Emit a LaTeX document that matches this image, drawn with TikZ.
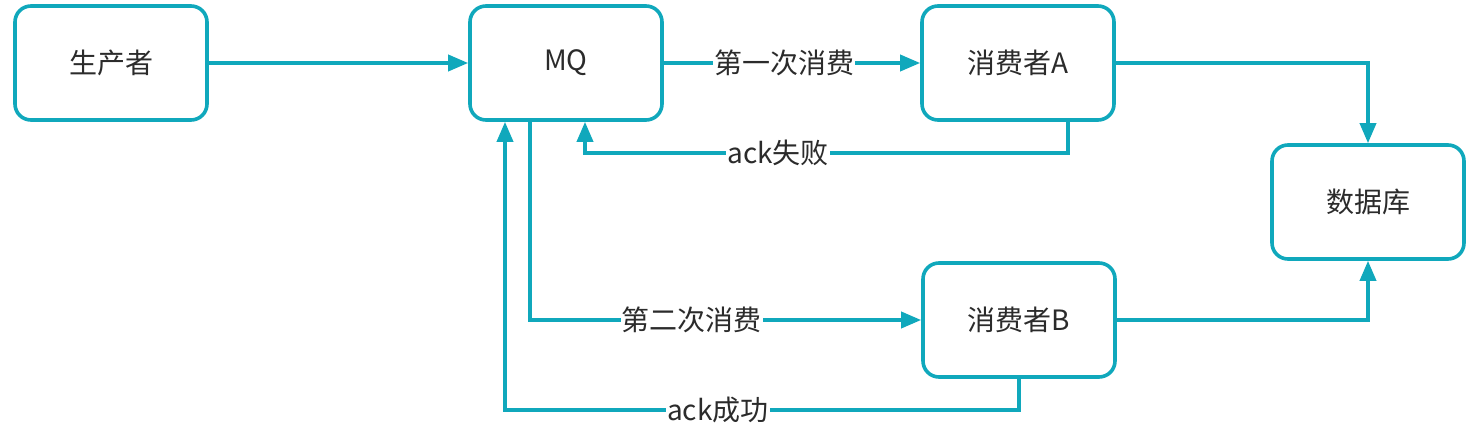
\documentclass[tikz,border=0pt]{standalone}
\usepackage{fontspec}
\setmainfont{Noto Sans CJK SC}
\usetikzlibrary{arrows.meta}
\definecolor{teal1}{HTML}{10A8BC}
\definecolor{txt}{HTML}{2B2B2B}
\tikzset{
  box/.style={draw=teal1, line width=3.6pt, rounded corners=16pt, minimum width=192pt, minimum height=114pt, fill=white, text=txt, font=\fontsize{28}{32}\selectfont, inner sep=0pt},
  conn/.style={draw=teal1, line width=3.6pt, -{Triangle[length=20pt,width=16pt]}},
  lbl/.style={fill=white, text=txt, font=\fontsize{28}{32}\selectfont, inner sep=1pt}
}
\begin{document}
\begin{tikzpicture}[x=1pt,y=-1pt]
\useasboundingbox (0,0) rectangle (1484,439);
\node[box] (prod) at (111,63) {生产者};
\node[box] (mq) at (566,63) {MQ};
\node[box] (ca) at (1018,63) {消费者A};
\node[box] (db) at (1368,202) {数据库};
\node[box] (cb) at (1019,320) {消费者B};
\draw[conn] (prod) -- (mq);
\draw[conn] (mq) -- node[lbl,pos=0.47] {第一次消费} (ca);
\draw[conn] (ca.south -| 1068,0) |- (585,153) node[lbl,pos=0.8] {ack失败} -- (mq.south -| 585,0);
\draw[conn] (mq.south -| 530,0) |- node[lbl,pos=0.707] {第二次消费} (cb);
\draw[conn] (cb.south) |- (505,410) node[lbl,pos=0.793] {ack成功} -- (mq.south -| 505,0);
\draw[conn] (ca.east) -| (db.north);
\draw[conn] (cb.east) -| (db.south);
\end{tikzpicture}
\end{document}
